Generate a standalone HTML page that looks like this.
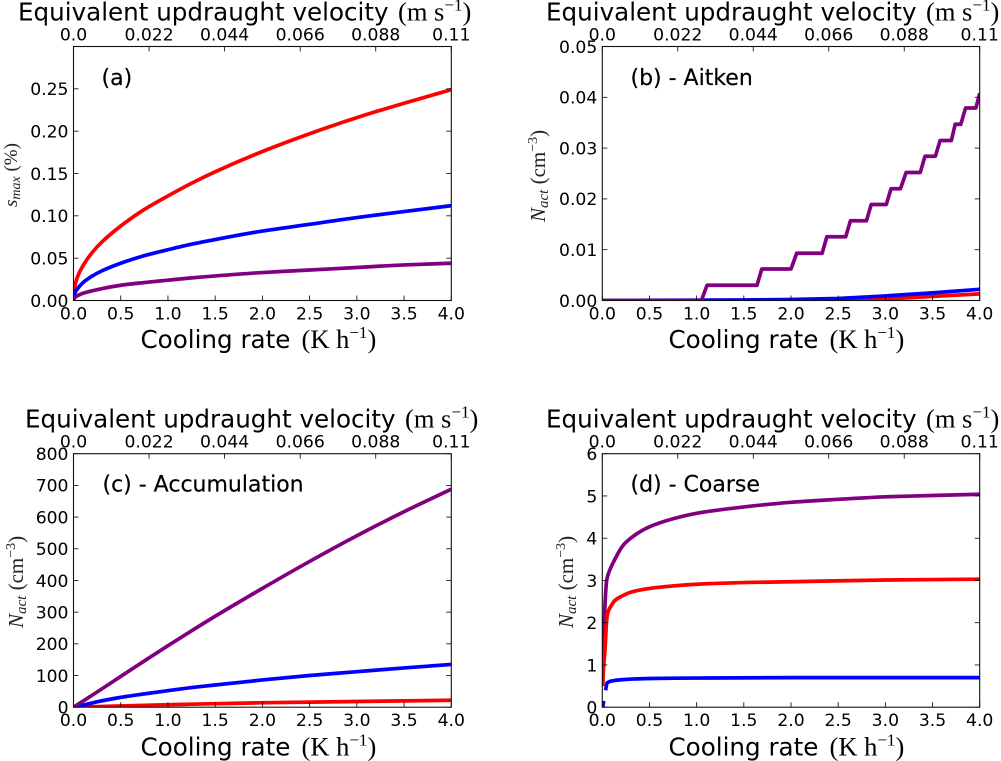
<!DOCTYPE html>
<html>
<head>
<meta charset="utf-8">
<title>Cooling rate panels</title>
<style>
html,body{margin:0;padding:0;background:#fff;width:1001px;height:761px;overflow:hidden}
svg{display:block;filter:blur(0.35px)}
.sans{font-family:"DejaVu Sans","Liberation Sans",sans-serif;fill:#000}
.serif{font-family:"Liberation Serif","DejaVu Serif",serif;fill:#000}
.title{font-size:24.6px}
.math{font-size:26.5px}
.sup{font-size:17px}
.tick{font-size:17.2px}
.panel-label{font-size:22px;stroke:#000;stroke-width:0.2px}
.ylab{font-size:21px;fill:#222}
.ylab-sub{font-size:15px;font-style:italic}
.ylab-sup{font-size:14px}
</style>
</head>
<body>
<svg id="figure" xmlns="http://www.w3.org/2000/svg" width="1001" height="761" viewBox="0 0 1001 761">
  <rect x="0" y="0" width="1001" height="761" fill="#fff"/>

  <g id="panel-a"></g>
  <g id="panel-b"></g>
  <g id="panel-c"></g>
  <g id="panel-d"></g>

  <!-- panel a text -->
  <text class="sans title" x="18" y="20.5">Equivalent updraught velocity <tspan class="serif math" x="398">(m s<tspan class="sup" dy="-10">−1</tspan><tspan dy="10">)</tspan></tspan></text>
  <text class="sans title" x="140.5" y="348">Cooling rate <tspan class="serif math" x="301.5">(K h<tspan class="sup" dy="-10">−1</tspan><tspan dy="10">)</tspan></tspan></text>
  <text class="serif ylab" style="font-size:19px" transform="translate(17,207) rotate(-90)"><tspan font-style="italic">s</tspan><tspan class="ylab-sub" style="font-size:14px" dy="3">max</tspan><tspan dy="-3"> (%)</tspan></text>
  <text class="sans panel-label" x="101.5" y="85">(a)</text>

  <!-- panel b text -->
  <text class="sans title" x="546" y="20.5">Equivalent updraught velocity <tspan class="serif math" x="926">(m s<tspan class="sup" dy="-10">−1</tspan><tspan dy="10">)</tspan></tspan></text>
  <text class="sans title" x="668.5" y="348">Cooling rate <tspan class="serif math" x="829.5">(K h<tspan class="sup" dy="-10">−1</tspan><tspan dy="10">)</tspan></tspan></text>
  <text class="serif ylab" transform="translate(545,222) rotate(-90)"><tspan font-style="italic">N</tspan><tspan class="ylab-sub" dy="3">act</tspan><tspan dy="-3"> (cm</tspan><tspan class="ylab-sup" dy="-8">−3</tspan><tspan dy="8">)</tspan></text>
  <text class="sans panel-label" x="630.5" y="85">(b) - Aitken</text>

  <!-- panel c text -->
  <text class="sans title" x="25" y="427.5">Equivalent updraught velocity <tspan class="serif math" x="405">(m s<tspan class="sup" dy="-10">−1</tspan><tspan dy="10">)</tspan></tspan></text>
  <text class="sans title" x="140.5" y="755.5">Cooling rate <tspan class="serif math" x="301.5">(K h<tspan class="sup" dy="-10">−1</tspan><tspan dy="10">)</tspan></tspan></text>
  <text class="serif ylab" transform="translate(23,628) rotate(-90)"><tspan font-style="italic">N</tspan><tspan class="ylab-sub" dy="3">act</tspan><tspan dy="-3"> (cm</tspan><tspan class="ylab-sup" dy="-8">−3</tspan><tspan dy="8">)</tspan></text>
  <text class="sans panel-label" x="102.5" y="491.5">(c) - Accumulation</text>

  <!-- panel d text -->
  <text class="sans title" x="546" y="427.5">Equivalent updraught velocity <tspan class="serif math" x="926">(m s<tspan class="sup" dy="-10">−1</tspan><tspan dy="10">)</tspan></tspan></text>
  <text class="sans title" x="668.5" y="755.5">Cooling rate <tspan class="serif math" x="829.5">(K h<tspan class="sup" dy="-10">−1</tspan><tspan dy="10">)</tspan></tspan></text>
  <text class="serif ylab" transform="translate(573,628) rotate(-90)"><tspan font-style="italic">N</tspan><tspan class="ylab-sub" dy="3">act</tspan><tspan dy="-3"> (cm</tspan><tspan class="ylab-sup" dy="-8">−3</tspan><tspan dy="8">)</tspan></text>
  <text class="sans panel-label" x="630.5" y="491.5">(d) - Coarse</text>
</svg>

<script>
// ---- shared tick labels ----
const coolingTickLabels = ["0.0","0.5","1.0","1.5","2.0","2.5","3.0","3.5","4.0"];
const updraughtTickLabels = ["0.0","0.022","0.044","0.066","0.088","0.11"];

// ---- panel (a) supersaturation ----
const aTickLabels = ["0.00","0.05","0.10","0.15","0.20","0.25"];
const aCooling = [0,0.01,0.02,0.05,0.1,0.2,0.3,0.5,0.75,1,1.25,1.5,2,2.5,3,3.5,4];
const aRed = [0,0.014,0.02,0.03,0.041,0.057,0.069,0.088,0.1075,0.1235,0.1385,0.152,0.176,0.197,0.216,0.233,0.249];
const aBlue = [0,0.007,0.01,0.015,0.021,0.029,0.035,0.044,0.053,0.06,0.0665,0.072,0.082,0.09,0.098,0.105,0.112];
const aPurple = [0,0.003,0.004,0.006,0.0085,0.0115,0.014,0.018,0.0212,0.024,0.0267,0.029,0.033,0.036,0.039,0.042,0.044];

// ---- panel (b) Aitken ----
const bTickLabels = ["0.00","0.01","0.02","0.03","0.04","0.05"];
const bPurpleCooling = [0,1.05,1.11,1.64,1.69,2.0,2.06,2.33,2.38,2.58,2.63,2.80,2.85,3.01,3.06,3.16,3.22,3.37,3.42,3.53,3.58,3.70,3.74,3.80,3.85,3.96,4];
const bPurple = [0,0,0.003,0.003,0.0062,0.0062,0.0093,0.0093,0.01255,0.01255,0.0157,0.0157,0.0189,0.0189,0.022,0.022,0.0252,0.0252,0.0284,0.0284,0.0315,0.0315,0.0347,0.0347,0.0379,0.0379,0.0408];
const bBlueCooling = [0,1.5,2,2.5,3,3.5,4];
const bBlue = [0,0.0001,0.0002,0.0004,0.0009,0.0015,0.0022];
const bRedCooling = [0,2.5,2.8,3,3.5,4];
const bRed = [0,0,0.0001,0.0003,0.0008,0.0013];

// ---- panel (c) accumulation ----
const cCooling = [0,0.1,0.25,0.5,0.75,1,1.25,1.5,2,2.5,3,3.5,4];
const cTickLabels = ["0","100","200","300","400","500","600","700","800"];
const cRed = [0,0.5,2,4,6,8,9.5,11,14,16,18,20,22];
const cBlue = [0,6,17,31,42,52,62,70,86,100,112,124,135];
const cPurple = [0,19,48,97,146,194,241,287,375,460,541,617,688];

// ---- panel (d) coarse (null marks the gap in the blue line) ----
const dTickLabels = ["0","1","2","3","4","5","6"];
const dPurpleCooling = [0.005,0.01,0.02,0.03,0.046,0.08,0.117,0.22,0.33,0.5,0.75,1,1.5,2,2.5,3,3.5,4];
const dPurple = [1.2,1.5,2.0,2.5,3.0,3.25,3.43,3.83,4.05,4.27,4.46,4.59,4.74,4.85,4.92,4.98,5.01,5.04];
const dRedCooling = [0.005,0.01,0.03,0.046,0.06,0.1,0.13,0.2,0.3,0.5,0.75,1,1.5,2,3,4];
const dRed = [0.5,0.8,1.4,2.05,2.25,2.42,2.52,2.62,2.72,2.81,2.87,2.91,2.95,2.97,3.01,3.03];
const dBlueCooling = [0.005,0.015,0.025,0.035,0.05,0.1,0.2,0.5,1,2,3,4];
const dBlue = [0,0.15,null,0.4,0.57,0.62,0.65,0.68,0.69,0.70,0.70,0.70];

const RED = "#ff0000", BLUE = "#0000ff", PURPLE = "#800080";
const NS = "http://www.w3.org/2000/svg";

function svgEl(tag, parent) {
  const el = document.createElementNS(NS, tag);
  parent.appendChild(el);
  return el;
}

// Monotone cubic path through pixel points, so the reading points join smoothly.
function smoothPath(pts) {
  const n = pts.length;
  if (n < 3) return pts.map((p, i) => (i ? "L" : "M") + p[0].toFixed(2) + " " + p[1].toFixed(2)).join("");
  const h = [], s = [], m = [];
  for (let i = 0; i < n - 1; i++) {
    h[i] = pts[i + 1][0] - pts[i][0];
    s[i] = (pts[i + 1][1] - pts[i][1]) / h[i];
  }
  m[0] = s[0];
  m[n - 1] = s[n - 2];
  for (let i = 1; i < n - 1; i++) {
    if (s[i - 1] * s[i] <= 0) { m[i] = 0; continue; }
    const w1 = 2 * h[i] + h[i - 1], w2 = h[i] + 2 * h[i - 1];
    m[i] = (w1 + w2) / (w1 / s[i - 1] + w2 / s[i]);
  }
  let d = "M" + pts[0][0].toFixed(2) + " " + pts[0][1].toFixed(2);
  for (let i = 0; i < n - 1; i++) {
    const c1x = pts[i][0] + h[i] / 3, c1y = pts[i][1] + m[i] * h[i] / 3;
    const c2x = pts[i + 1][0] - h[i] / 3, c2y = pts[i + 1][1] - m[i + 1] * h[i] / 3;
    d += "C" + c1x.toFixed(2) + " " + c1y.toFixed(2) + " " + c2x.toFixed(2) + " " + c2y.toFixed(2) + " " + pts[i + 1][0].toFixed(2) + " " + pts[i + 1][1].toFixed(2);
  }
  return d;
}

function drawPanel(id, box, yMax, yTickLabels, smooth, series) {
  const g = document.getElementById("panel-" + id);
  const xScale = v => box.x0 + (v / 4) * (box.x1 - box.x0);
  const topScale = v => box.x0 + (v / 0.11) * (box.x1 - box.x0);
  const yScale = v => box.y1 - (v / yMax) * (box.y1 - box.y0);

  const clip = svgEl("clipPath", g);
  clip.setAttribute("id", "clip-" + id);
  const clipRect = svgEl("rect", clip);
  clipRect.setAttribute("x", box.x0);
  clipRect.setAttribute("y", box.y0);
  clipRect.setAttribute("width", box.x1 - box.x0);
  clipRect.setAttribute("height", box.y1 - box.y0);

  // series lines
  series.forEach(s => {
    const runs = [[]];
    s.y.forEach((v, i) => {
      if (v === null) { runs.push([]); return; }
      runs[runs.length - 1].push([xScale(s.x[i]), yScale(v)]);
    });
    const d = runs.filter(r => r.length).map(r => smooth
      ? smoothPath(r)
      : r.map((p, i) => (i ? "L" : "M") + p[0].toFixed(2) + " " + p[1].toFixed(2)).join("")).join("");
    const path = svgEl("path", g);
    
    
    path.setAttribute("d", d);
    path.setAttribute("fill", "none");
    path.setAttribute("stroke", s.color);
    path.setAttribute("stroke-width", "3.7");
    path.setAttribute("stroke-linejoin", "round");
    path.setAttribute("clip-path", "url(#clip-" + id + ")");
  });

  function tick(x1, y1, x2, y2, name) {
    const t = svgEl("line", g);
    
    
    t.setAttribute("x1", x1);
    t.setAttribute("y1", y1);
    t.setAttribute("x2", x2);
    t.setAttribute("y2", y2);
    t.setAttribute("stroke", "#000");
    t.setAttribute("stroke-width", "0.8");
  }
  function label(x, y, anchor, text, name) {
    const t = svgEl("text", g);
    
    
    t.setAttribute("class", "sans tick");
    t.setAttribute("x", x);
    t.setAttribute("y", y);
    t.setAttribute("text-anchor", anchor);
    t.textContent = text;
  }

  const L = 5;
  coolingTickLabels.forEach(lab => {
    const x = xScale(parseFloat(lab));
    tick(x, box.y1, x, box.y1 - L, "panel-" + id + "-x-tick");
    label(x, box.y1 + 19, "middle", lab, "panel-" + id + "-x-tick-label");
  });
  updraughtTickLabels.forEach(lab => {
    const x = topScale(parseFloat(lab));
    tick(x, box.y0, x, box.y0 + L, "panel-" + id + "-top-tick");
    label(x, box.y0 - 6, "middle", lab, "panel-" + id + "-top-tick-label");
  });
  yTickLabels.forEach(lab => {
    const y = yScale(parseFloat(lab));
    tick(box.x0, y, box.x0 + L, y, "panel-" + id + "-y-tick");
    tick(box.x1, y, box.x1 - L, y, "panel-" + id + "-y-tick-right");
    label(box.x0 - 5, y + 6.3, "end", lab, "panel-" + id + "-y-tick-label");
  });

  const frame = svgEl("rect", g);
  
  
  frame.setAttribute("x", box.x0);
  frame.setAttribute("y", box.y0);
  frame.setAttribute("width", box.x1 - box.x0);
  frame.setAttribute("height", box.y1 - box.y0);
  frame.setAttribute("fill", "none");
  frame.setAttribute("stroke", "#111");
  frame.setAttribute("stroke-width", "1.1");
}

drawPanel("a", {x0:73.5, x1:451.3, y0:46.5, y1:300.5}, 0.3, aTickLabels, true, [
  {name:"red", x:aCooling, y:aRed, color:RED},
  {name:"blue", x:aCooling, y:aBlue, color:BLUE},
  {name:"purple", x:aCooling, y:aPurple, color:PURPLE}
]);
drawPanel("b", {x0:602.3, x1:979.7, y0:46.5, y1:300.5}, 0.05, bTickLabels, false, [
  {name:"red", x:bRedCooling, y:bRed, color:RED},
  {name:"blue", x:bBlueCooling, y:bBlue, color:BLUE},
  {name:"purple", x:bPurpleCooling, y:bPurple, color:PURPLE}
]);
drawPanel("c", {x0:73.5, x1:451.3, y0:453.7, y1:707.2}, 800, cTickLabels, true, [
  {name:"red", x:cCooling, y:cRed, color:RED},
  {name:"blue", x:cCooling, y:cBlue, color:BLUE},
  {name:"purple", x:cCooling, y:cPurple, color:PURPLE}
]);
drawPanel("d", {x0:602.3, x1:979.7, y0:453.7, y1:707.2}, 6, dTickLabels, true, [
  {name:"purple", x:dPurpleCooling, y:dPurple, color:PURPLE},
  {name:"red", x:dRedCooling, y:dRed, color:RED},
  {name:"blue", x:dBlueCooling, y:dBlue, color:BLUE}
]);
</script>
</body>
</html>
